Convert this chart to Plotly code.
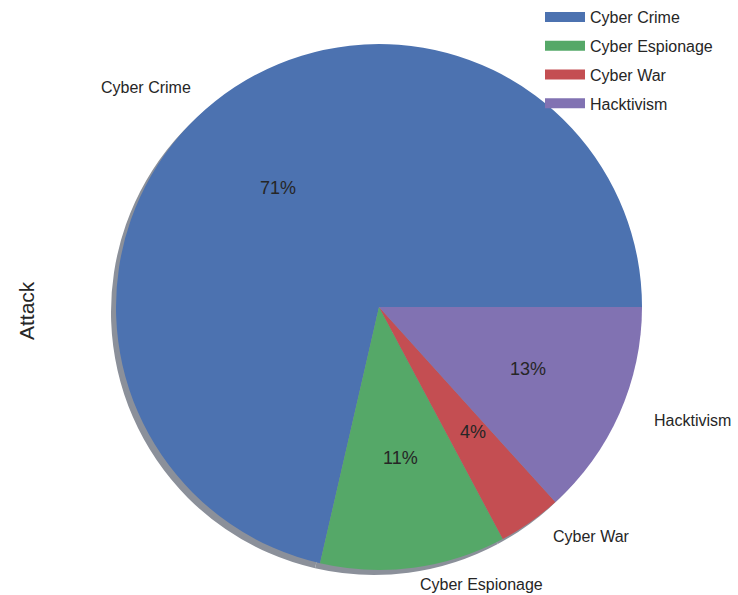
import math
import plotly.graph_objects as go

# Share of cyber attacks by category
categories = ["Cyber Crime", "Cyber Espionage", "Cyber War", "Hacktivism"]
shares = [71.4, 11.4, 3.9, 13.3]
colors = ["#4C72B0", "#55A868", "#C44E52", "#8172B2"]

W, H = 738, 595
CX, CY, R = 379, 307, 263          # pie centre / radius in px (CY from top)
RX, RY = 271.5, 254.5              # text placement radii
TXT = "#262626"
FONT = "Liberation Sans, Arial, sans-serif"

total = sum(shares)
first_sweep = 360 * shares[0] / total


def domain(cx, cy, r):
    yb = H - cy
    return dict(x=[(cx - r) / W, (cx + r) / W], y=[(yb - r) / H, (yb + r) / H])


# slices start at 3 o'clock and run counter-clockwise
common = dict(labels=categories, values=shares, sort=False,
              direction="counterclockwise", rotation=90 - first_sweep,
              hoverinfo="skip", showlegend=False, textinfo="none")

fig = go.Figure()
# drop shadow
fig.add_trace(go.Pie(**common, domain=domain(CX - 5, CY + 5, R),
                     marker=dict(colors=["#8b909a"] * len(categories),
                                 line=dict(width=0))))
# main pie
fig.add_trace(go.Pie(**common, domain=domain(CX, CY, R),
                     marker=dict(colors=colors, line=dict(width=0))))

# legend entries
for name, c in zip(categories, colors):
    fig.add_trace(go.Scatter(x=[None], y=[None], mode="lines", name=name,
                             legendgroup=name, line=dict(color=c, width=13)))

# category labels outside the rim, percentages inside
annotations = []
start = 0.0
for name, v in zip(categories, shares):
    sweep = 360 * v / total
    mid = math.radians(start + sweep / 2)
    c, s = math.cos(mid), math.sin(mid)
    lx, ly = CX + 1.1 * RX * c, CY - 1.1 * RY * s
    annotations.append(dict(text=name, x=lx / W, y=1 - ly / H,
                            xref="paper", yref="paper",
                            xanchor="left" if c > 0 else "right",
                            yanchor="middle", showarrow=False,
                            font=dict(family=FONT, size=16, color=TXT)))
    px, py = CX + 0.6 * RX * c, CY - 0.6 * RY * s
    annotations.append(dict(text=f"{100 * v / total:.0f}%", x=px / W, y=1 - py / H,
                            xref="paper", yref="paper",
                            xanchor="center", yanchor="middle", showarrow=False,
                            font=dict(family=FONT, size=18, color=TXT)))
    start += sweep

annotations.append(dict(text="Attack", textangle=-90, x=26 / W, y=1 - 310 / H,
                        xref="paper", yref="paper",
                        xanchor="center", yanchor="middle", showarrow=False,
                        font=dict(family=FONT, size=21, color=TXT)))

fig.update_layout(
    width=W, height=H,
    margin=dict(l=0, r=0, t=0, b=0, autoexpand=False),
    paper_bgcolor="white", plot_bgcolor="white",
    xaxis=dict(visible=False), yaxis=dict(visible=False),
    font=dict(family=FONT, color=TXT),
    legend=dict(x=540 / W, y=1.0, xanchor="left", yanchor="top",
                font=dict(family=FONT, size=16, color=TXT),
                tracegroupgap=5, itemwidth=40,
                bgcolor="rgba(0,0,0,0)"),
    annotations=annotations,
)

fig.write_html("out.html")
